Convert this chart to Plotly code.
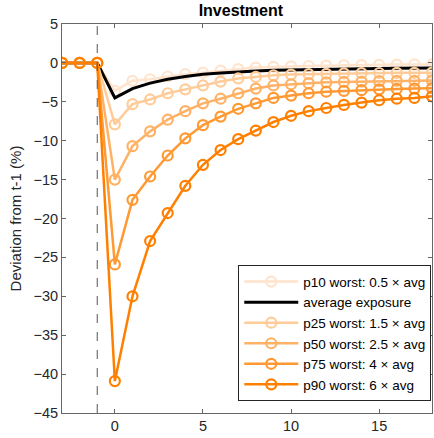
import plotly.graph_objects as go

periods = list(range(-3, 19))

p10 = [0, 0, 0, -3.6, -2.3, -2.1, -1.75, -1.45, -1.25, -1.0, -0.8, -0.6, -0.5, -0.45, -0.4, -0.35, -0.3, -0.28, -0.25, -0.22, -0.2, -0.2]
avg = [0, 0, 0, -4.5, -3.3, -2.6, -2.1, -1.75, -1.45, -1.3, -1.15, -1.05, -0.95, -0.9, -0.85, -0.8, -0.78, -0.75, -0.72, -0.7, -0.68, -0.67]
p25 = [0, 0, 0, -7.9, -5.3, -4.7, -3.9, -3.4, -2.9, -2.4, -2.0, -1.8, -1.6, -1.5, -1.45, -1.4, -1.35, -1.32, -1.3, -1.28, -1.27, -1.25]
p50 = [0, 0, 0, -15.0, -10.7, -8.8, -7.3, -6.2, -5.2, -4.6, -3.9, -3.3, -2.9, -2.75, -2.6, -2.5, -2.45, -2.4, -2.35, -2.3, -2.3, -2.25]
p75 = [0, 0, 0, -25.9, -17.6, -14.6, -11.9, -9.7, -8.0, -6.9, -5.9, -5.2, -4.5, -4.2, -3.9, -3.7, -3.6, -3.5, -3.4, -3.35, -3.3, -3.25]
p90 = [0, 0, 0, -40.9, -30.0, -22.9, -19.3, -15.8, -13.1, -11.2, -9.8, -8.7, -7.6, -6.8, -6.2, -5.8, -5.4, -5.1, -4.8, -4.6, -4.5, -4.3]

labels = ["p10 worst: 0.5 × avg", "average exposure", "p25 worst: 1.5 × avg",
          "p50 worst: 2.5 × avg", "p75 worst: 4 × avg", "p90 worst: 6 × avg"]
colors = ["#FFE3CC", "#000000", "#FFCC99", "#FFB266", "#FF9933", "#FF8000"]
series = [p10, avg, p25, p50, p75, p90]

shock_period = -1
x_ticks = [0, 5, 10, 15]
y_ticks = list(range(5, -50, -5))

font_family = "Liberation Sans, Arial, sans-serif"

fig = go.Figure()
for name, col, vals in zip(labels, colors, series):
    if name == "average exposure":
        fig.add_trace(go.Scatter(x=periods, y=vals, name=name, mode="lines",
                                 line=dict(color=col, width=3)))
    else:
        fig.add_trace(go.Scatter(x=periods, y=vals, name=name, mode="lines+markers",
                                 line=dict(color=col, width=2.5),
                                 marker=dict(symbol="circle-open", size=10,
                                             color=col, line=dict(width=2.2, color=col))))

fig.add_vline(x=shock_period, line=dict(color="#555555", width=1, dash="dash"))

axis_common = dict(showline=True, linecolor="#666666", linewidth=1, mirror="ticks",
                   ticks="inside", ticklen=4, tickcolor="#666666",
                   showgrid=False, zeroline=False,
                   tickfont=dict(family=font_family, size=14.5, color="#262626"))

fig.update_xaxes(range=[-3, 18], tickvals=x_ticks, **axis_common)
fig.update_yaxes(range=[-45, 5], tickvals=y_ticks,
                 title=dict(text="Deviation from t-1 (%)", standoff=8,
                            font=dict(family=font_family, size=15, color="#262626")),
                 **axis_common)

fig.update_layout(
    width=434, height=438,
    margin=dict(l=62, r=2, t=24, b=25),
    paper_bgcolor="white", plot_bgcolor="white",
    title=dict(text="<b>Investment</b>", x=0.555, xanchor="center", y=0.99, yanchor="top",
               font=dict(family=font_family, size=16, color="#000000")),
    font=dict(family=font_family, size=14, color="#262626"),
    legend=dict(x=0.998, xanchor="right", y=0.03, yanchor="bottom",
                bgcolor="white", bordercolor="#262626", borderwidth=1,
                font=dict(family=font_family, size=13.5, color="#000000"),
                tracegroupgap=0, itemwidth=54),
    showlegend=True,
)

fig.write_html("out.html", config={"displayModeBar": False})

with open("out.html", "r", encoding="utf-8") as f:
    html = f.read()
html = html.replace("<head>", "<head><style>html,body{margin:0;padding:0;overflow:hidden;}</style>", 1)
with open("out.html", "w", encoding="utf-8") as f:
    f.write(html)
